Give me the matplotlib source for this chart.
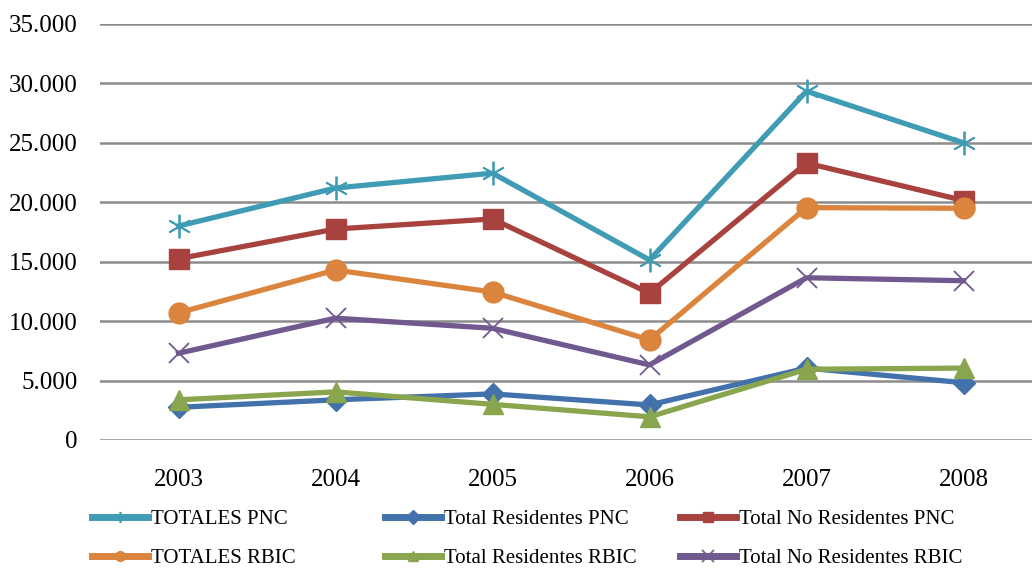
import matplotlib
matplotlib.use("Agg")
import matplotlib.pyplot as plt
from matplotlib.lines import Line2D
from matplotlib.ticker import FuncFormatter

years = ["2003", "2004", "2005", "2006", "2007", "2008"]

totales_pnc = [18000, 21200, 22450, 15150, 29350, 25000]
residentes_pnc = [2750, 3380, 3880, 2950, 6050, 4820]
no_residentes_pnc = [15250, 17750, 18600, 12350, 23300, 20150]
totales_rbic = [10700, 14300, 12450, 8420, 19550, 19500]
residentes_rbic = [3380, 4050, 3000, 1950, 5950, 6050]
no_residentes_rbic = [7300, 10250, 9400, 6320, 13650, 13400]

labels = ["TOTALES PNC", "Total Residentes PNC", "Total No Residentes PNC",
          "TOTALES RBIC", "Total Residentes RBIC", "Total No Residentes RBIC"]
series = [totales_pnc, residentes_pnc, no_residentes_pnc,
          totales_rbic, residentes_rbic, no_residentes_rbic]
colors = ["#3F9CB4", "#4271AB", "#A8423F", "#DB843D", "#89A54E", "#71588F"]
markers = ["*", "D", "s", "o", "^", "x"]
msizes = [17, 11, 15, 15, 15, 15]

plt.rcParams["font.family"] = ["Liberation Serif", "DejaVu Serif"]

fig = plt.figure(figsize=(10.32, 5.69), dpi=100)
ax = fig.add_axes([100 / 1032, 129 / 569, 942 / 1032, 416 / 569])

x = list(range(len(years)))
for vals, lab, c, m, ms in zip(series, labels, colors, markers, msizes):
    if m == "*":
        ax.plot(x, vals, color=c, lw=3.8, marker=(6, 2, 0), ms=ms,
                mec=c, mew=1.3, zorder=3)
    elif m == "x":
        ax.plot(x, vals, color=c, lw=3.8, marker="x", ms=ms, mec=c,
                mew=1.3, zorder=3)
    else:
        ax.plot(x, vals, color=c, lw=3.8, marker=m, ms=ms, mfc=c, mec=c,
                zorder=3)

ax.set_xlim(-0.5, 5.5)
ax.set_ylim(0, 35000)
ax.set_yticks(range(0, 35001, 5000))
ax.yaxis.set_major_formatter(FuncFormatter(lambda v, p: f"{int(v):,}".replace(",", ".")))
ax.set_xticks(x)
ax.set_xticklabels(years)
ax.tick_params(axis="both", length=0, labelsize=18, colors="black")
ax.tick_params(axis="y", pad=16)
ax.tick_params(axis="x", pad=21)
ax.yaxis.grid(True, color="#8C8C8C", lw=1.8)
ax.set_axisbelow(True)
for s in ax.spines.values():
    s.set_visible(False)

handles = []
for c, m in zip(colors, markers):
    if m == "*":
        h = Line2D([], [], color=c, lw=5, marker=(6, 2, 0), ms=8, mec=c, mew=1.2)
    elif m == "x":
        h = Line2D([], [], color=c, lw=5, marker="x", ms=8, mec=c, mew=1.2)
    else:
        h = Line2D([], [], color=c, lw=5, marker=m, ms=7, mfc=c, mec=c)
    handles.append(h)

# one legend per column: (row 1 = PNC, row 2 = RBIC)
col_x = [92, 385, 680]
for i, cx in enumerate(col_x):
    leg = fig.legend([handles[i], handles[i + 3]], [labels[i], labels[i + 3]],
                     loc="center left", bbox_to_anchor=(cx / 1032, 1 - 539 / 569),
                     frameon=False, fontsize=15, handlelength=2.7, handletextpad=0.15,
                     labelspacing=0.95, borderpad=0, borderaxespad=0)

fig.savefig("out.png", dpi=100)
